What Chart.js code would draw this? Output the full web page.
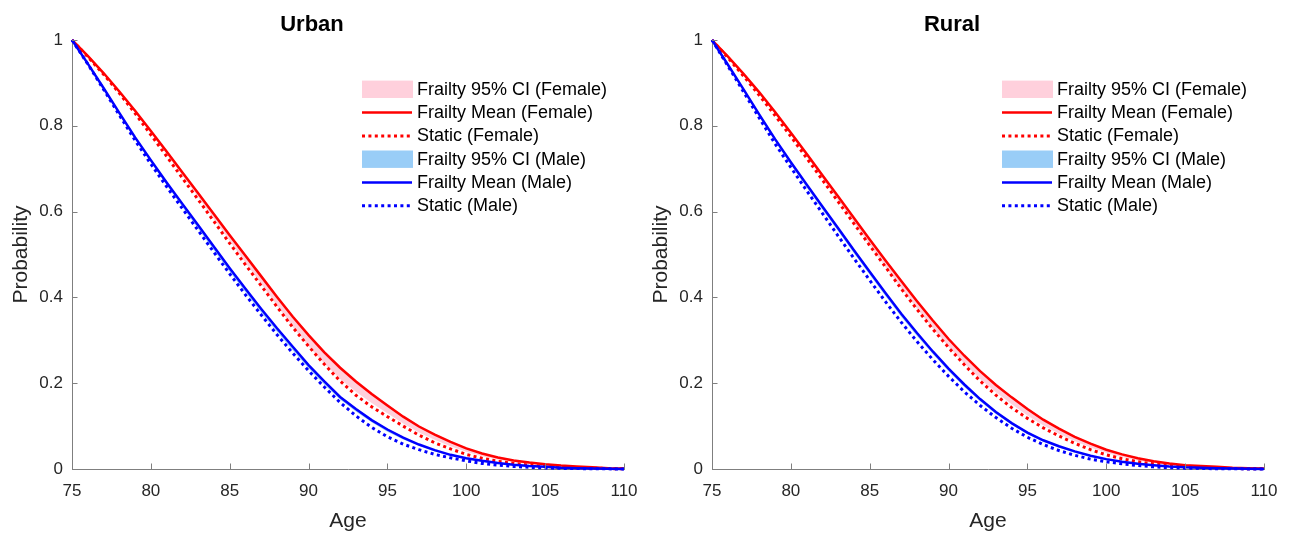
<!DOCTYPE html>
<html>
<head>
<meta charset="utf-8">
<script src="https://cdn.jsdelivr.net/npm/chart.js@4.4.1/dist/chart.umd.min.js"></script>
<style>
  html, body { margin: 0; padding: 0; background: #fff; }
  #wrap { position: relative; width: 1291px; height: 537px; overflow: hidden; }
  #c1 { position: absolute; left: 0; top: 0; }
  #c2 { position: absolute; left: 640px; top: 0; }
</style>
</head>
<body>
<div id="wrap">
  <canvas id="c1" width="640" height="537"></canvas>
  <canvas id="c2" width="651" height="537"></canvas>
</div>
<script>
// ---------- DATA ----------
const ages = [75,76,77,78,79,80,81,82,83,84,85,86,87,88,89,90,91,92,93,94,95,96,97,98,99,100,101,102,103,104,105,106,107,108,109,110];
const xTicks = [75,80,85,90,95,100,105,110];
const yTicks = [0,0.2,0.4,0.6,0.8,1];
const panelTitles = ['Urban','Rural'];
const legendLabels = ['Frailty 95% CI (Female)','Frailty Mean (Female)','Static (Female)','Frailty 95% CI (Male)','Frailty Mean (Male)','Static (Male)'];

// Urban
const urbanFemaleHi = [1.000,0.964,0.925,0.882,0.838,0.791,0.743,0.695,0.647,0.598,0.549,0.501,0.453,0.405,0.359,0.316,0.276,0.240,0.208,0.179,0.151,0.125,0.102,0.082,0.065,0.050,0.038,0.029,0.022,0.016,0.012,0.009,0.0065,0.0045,0.0025,0.0012];
const urbanFemaleLo = [1.000,0.962,0.921,0.877,0.831,0.783,0.734,0.684,0.634,0.583,0.532,0.481,0.431,0.381,0.331,0.286,0.246,0.210,0.180,0.154,0.130,0.106,0.085,0.068,0.053,0.040,0.030,0.022,0.016,0.012,0.009,0.0065,0.005,0.003,0.0015,0.0007];
const urbanFemaleMean = [1.000,0.963,0.923,0.880,0.835,0.788,0.740,0.691,0.643,0.594,0.545,0.497,0.449,0.401,0.355,0.312,0.272,0.236,0.204,0.175,0.148,0.122,0.099,0.080,0.063,0.048,0.036,0.027,0.020,0.015,0.011,0.008,0.006,0.004,0.002,0.001];
const urbanFemaleStatic = [1.000,0.961,0.920,0.876,0.829,0.779,0.729,0.678,0.628,0.577,0.526,0.476,0.427,0.378,0.330,0.286,0.244,0.205,0.172,0.145,0.122,0.100,0.079,0.061,0.047,0.034,0.025,0.018,0.013,0.009,0.006,0.004,0.003,0.002,0.001,0.0005];
const urbanMaleHi = [1.000,0.946,0.890,0.832,0.775,0.722,0.670,0.620,0.570,0.520,0.470,0.422,0.375,0.330,0.287,0.244,0.206,0.170,0.142,0.116,0.094,0.075,0.058,0.045,0.034,0.026,0.020,0.015,0.011,0.0078,0.0055,0.0035,0.0024,0.0013,0.0007,0.0003];
const urbanMaleLo = [1.000,0.944,0.886,0.827,0.769,0.715,0.662,0.611,0.560,0.510,0.460,0.412,0.365,0.320,0.277,0.235,0.197,0.162,0.134,0.109,0.087,0.069,0.054,0.041,0.031,0.023,0.017,0.0125,0.009,0.006,0.0043,0.0025,0.0016,0.0008,0.0004,0.0001];
const urbanMaleMean = [1.000,0.945,0.888,0.830,0.773,0.720,0.668,0.618,0.568,0.518,0.468,0.420,0.373,0.328,0.285,0.242,0.204,0.168,0.140,0.114,0.092,0.073,0.057,0.044,0.033,0.025,0.019,0.014,0.010,0.007,0.005,0.003,0.002,0.001,0.0005,0.0002];
const urbanMaleStatic = [1.000,0.944,0.885,0.825,0.766,0.711,0.658,0.607,0.556,0.505,0.455,0.406,0.359,0.313,0.270,0.229,0.191,0.155,0.124,0.097,0.075,0.058,0.045,0.034,0.026,0.019,0.013,0.009,0.006,0.004,0.0025,0.0015,0.001,0.0005,0.0003,0.0001];

// Rural
const ruralFemaleHi = [1.000,0.963,0.923,0.880,0.835,0.787,0.738,0.688,0.638,0.588,0.538,0.489,0.441,0.394,0.349,0.306,0.267,0.231,0.199,0.170,0.143,0.118,0.096,0.077,0.061,0.047,0.036,0.027,0.020,0.0145,0.0105,0.008,0.006,0.004,0.0025,0.0013];
const ruralFemaleLo = [1.000,0.961,0.919,0.875,0.828,0.779,0.729,0.678,0.626,0.574,0.522,0.471,0.422,0.374,0.328,0.285,0.246,0.210,0.179,0.151,0.125,0.102,0.082,0.065,0.050,0.038,0.028,0.020,0.014,0.010,0.007,0.0055,0.004,0.0022,0.0015,0.0007];
const ruralFemaleMean = [1.000,0.962,0.921,0.878,0.832,0.784,0.735,0.685,0.635,0.585,0.535,0.486,0.438,0.391,0.346,0.303,0.264,0.228,0.196,0.167,0.140,0.115,0.094,0.075,0.059,0.045,0.034,0.025,0.018,0.013,0.009,0.007,0.005,0.003,0.002,0.001];
const ruralFemaleStatic = [1.000,0.959,0.916,0.871,0.824,0.775,0.725,0.674,0.623,0.572,0.521,0.471,0.420,0.372,0.326,0.283,0.243,0.205,0.172,0.143,0.118,0.096,0.077,0.060,0.045,0.033,0.024,0.017,0.012,0.008,0.005,0.0035,0.002,0.0012,0.0006,0.0003];
const ruralMaleHi = [1.000,0.944,0.887,0.828,0.771,0.717,0.665,0.614,0.563,0.512,0.462,0.412,0.364,0.319,0.276,0.236,0.199,0.165,0.135,0.109,0.087,0.069,0.055,0.042,0.032,0.024,0.018,0.013,0.0098,0.0067,0.0046,0.0035,0.0024,0.0013,0.0007,0.0003];
const ruralMaleLo = [1.000,0.942,0.883,0.823,0.765,0.710,0.657,0.605,0.554,0.503,0.453,0.403,0.355,0.310,0.268,0.228,0.191,0.158,0.128,0.103,0.081,0.064,0.050,0.038,0.029,0.021,0.0155,0.011,0.008,0.0053,0.0035,0.0025,0.0016,0.0008,0.0004,0.0001];
const ruralMaleMean = [1.000,0.943,0.885,0.826,0.769,0.715,0.663,0.612,0.561,0.510,0.460,0.410,0.362,0.317,0.274,0.234,0.197,0.163,0.133,0.107,0.085,0.067,0.053,0.041,0.031,0.023,0.017,0.012,0.009,0.006,0.004,0.003,0.002,0.001,0.0005,0.0002];
const ruralMaleStatic = [1.000,0.940,0.879,0.818,0.758,0.703,0.649,0.596,0.543,0.491,0.440,0.390,0.342,0.297,0.255,0.216,0.180,0.148,0.120,0.095,0.074,0.057,0.043,0.032,0.023,0.017,0.012,0.008,0.005,0.003,0.002,0.0012,0.0007,0.0004,0.0002,0.0001];

// ---------- STYLE ----------
const FONT = '"Liberation Sans", Arial, Helvetica, sans-serif';
const RED = '#ff0000', BLUE = '#0000ff';
const PINK = '#ffd0dc', LIGHTBLUE = '#99cdf7';
const AXIS = '#7f7f7f', TEXT = '#262626';
const DOT = [3, 3.4];

function pts(arr) { return ages.map((a, i) => ({ x: a, y: arr[i] })); }

function datasets(fHi, fLo, fMean, fStatic, mHi, mLo, mMean, mStatic) {
  const base = { pointRadius: 0, pointHoverRadius: 0, tension: 0, clip: 6 };
  return [
    Object.assign({}, base, { data: pts(fHi), borderWidth: 0, borderColor: 'rgba(0,0,0,0)', backgroundColor: PINK, fill: '+1', order: 5, legendIndex: 0 }),
    Object.assign({}, base, { data: pts(fLo), borderWidth: 0, borderColor: 'rgba(0,0,0,0)', backgroundColor: PINK, fill: false, order: 5 }),
    Object.assign({}, base, { data: pts(fMean), borderWidth: 2.5, borderColor: RED, fill: false, order: 3, legendIndex: 1 }),
    Object.assign({}, base, { data: pts(fStatic), borderWidth: 3, borderColor: RED, borderDash: DOT, fill: false, order: 2, legendIndex: 2 }),
    Object.assign({}, base, { data: pts(mHi), borderWidth: 0, borderColor: 'rgba(0,0,0,0)', backgroundColor: LIGHTBLUE, fill: '+1', order: 4, legendIndex: 3 }),
    Object.assign({}, base, { data: pts(mLo), borderWidth: 0, borderColor: 'rgba(0,0,0,0)', backgroundColor: LIGHTBLUE, fill: false, order: 4 }),
    Object.assign({}, base, { data: pts(mMean), borderWidth: 2.5, borderColor: BLUE, fill: false, order: 1, legendIndex: 4 }),
    Object.assign({}, base, { data: pts(mStatic), borderWidth: 3, borderColor: BLUE, borderDash: DOT, fill: false, order: 0, legendIndex: 5 })
  ];
}

// inner tick marks (MATLAB style)
const innerTicks = {
  id: 'innerTicks',
  afterDraw(chart) {
    const { ctx, chartArea } = chart;
    const xs = chart.scales.x, ys = chart.scales.y;
    ctx.save();
    ctx.strokeStyle = AXIS;
    ctx.lineWidth = 1;
    ctx.beginPath();
    xs.ticks.forEach(t => {
      const px = Math.round(xs.getPixelForValue(t.value)) + 0.5;
      ctx.moveTo(px, chartArea.bottom);
      ctx.lineTo(px, chartArea.bottom - 5.5);
    });
    ys.ticks.forEach(t => {
      const py = Math.round(ys.getPixelForValue(t.value)) + 0.5;
      ctx.moveTo(chartArea.left, py);
      ctx.lineTo(chartArea.left + 5.5, py);
    });
    ctx.stroke();
    ctx.restore();
  }
};

// legend drawn inside the plot area, styles taken from the datasets
const innerLegend = {
  id: 'innerLegend',
  afterDraw(chart) {
    const { ctx, chartArea } = chart;
    const x0 = chartArea.left + 290;
    const y0 = 89.3;
    const step = 23.3;
    ctx.save();
    ctx.font = '18px ' + FONT;
    ctx.textBaseline = 'middle';
    ctx.textAlign = 'left';
    chart.data.datasets.forEach(ds => {
      if (ds.legendIndex === undefined) return;
      const i = ds.legendIndex;
      const y = y0 + i * step;
      if (ds.fill) {
        ctx.fillStyle = ds.backgroundColor;
        ctx.fillRect(x0, y - 8.7, 51, 17.4);
      } else {
        ctx.strokeStyle = ds.borderColor;
        ctx.lineWidth = ds.borderWidth;
        ctx.setLineDash(ds.borderDash || []);
        ctx.beginPath();
        ctx.moveTo(x0, y);
        ctx.lineTo(x0 + 50, y);
        ctx.stroke();
        ctx.setLineDash([]);
      }
      ctx.fillStyle = '#000';
      ctx.fillText(legendLabels[i], x0 + 55, y + 0.5);
    });
    ctx.restore();
  }
};

function makeChart(id, title, sets, rightPad) {
  return new Chart(document.getElementById(id), {
    type: 'line',
    data: { datasets: sets },
    plugins: [innerTicks, innerLegend],
    options: {
      responsive: false,
      animation: false,
      events: [],
      layout: { padding: { left: 0, right: rightPad, top: 0, bottom: 0 } },
      plugins: {
        legend: { display: false },
        tooltip: { enabled: false },
        filler: { drawTime: 'beforeDatasetsDraw' },
        title: {
          display: true, text: title, color: '#000',
          font: { family: FONT, size: 22, weight: 'bold' },
          padding: { top: 11.3, bottom: 2.3 }
        }
      },
      scales: {
        x: {
          type: 'linear', min: xTicks[0], max: xTicks[xTicks.length - 1],
          afterBuildTicks: s => { s.ticks = xTicks.map(v => ({ value: v })); },
          afterFit: s => { s.height = 68; s.paddingLeft = 0; s.paddingRight = 0; },
          grid: { display: false, drawTicks: false },
          border: { display: true, color: AXIS, width: 1 },
          ticks: { color: TEXT, font: { family: FONT, size: 17 }, padding: 12, maxRotation: 0, autoSkip: false,
                   callback: v => String(v) },
          title: { display: true, text: 'Age', color: TEXT, font: { family: FONT, size: 21 }, padding: { top: 0, bottom: 3 } }
        },
        y: {
          type: 'linear', min: 0, max: 1,
          afterBuildTicks: s => { s.ticks = yTicks.map(v => ({ value: v })); },
          afterFit: s => { s.width = 72; s.paddingTop = 0; s.paddingBottom = 0; },
          grid: { display: false, drawTicks: false },
          border: { display: true, color: AXIS, width: 1 },
          ticks: { color: TEXT, font: { family: FONT, size: 17 }, padding: 9, autoSkip: false,
                   callback: v => String(+Number(v).toFixed(1)) },
          title: { display: true, text: 'Probability', color: TEXT, font: { family: FONT, size: 21 }, padding: { top: 9, bottom: 0 } }
        }
      }
    }
  });
}

makeChart('c1', panelTitles[0],
  datasets(urbanFemaleHi, urbanFemaleLo, urbanFemaleMean, urbanFemaleStatic, urbanMaleHi, urbanMaleLo, urbanMaleMean, urbanMaleStatic), 16);
makeChart('c2', panelTitles[1],
  datasets(ruralFemaleHi, ruralFemaleLo, ruralFemaleMean, ruralFemaleStatic, ruralMaleHi, ruralMaleLo, ruralMaleMean, ruralMaleStatic), 27);
</script>
</body>
</html>
